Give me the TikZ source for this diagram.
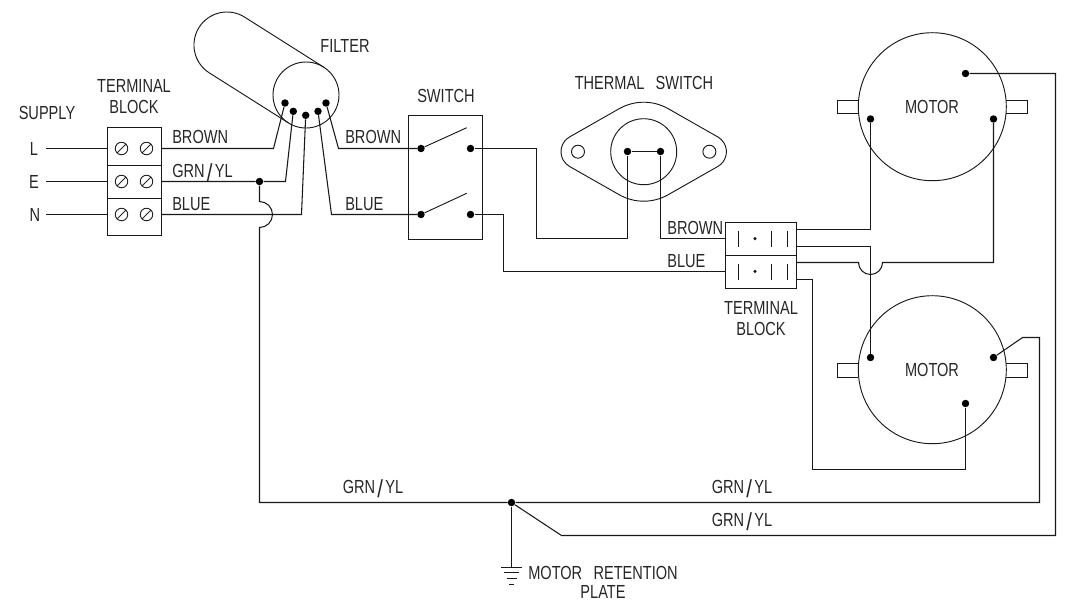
\documentclass[tikz,border=0pt]{standalone}
\usepackage{fontspec}
\setmainfont[FakeStretch=0.77]{Liberation Sans}
\usetikzlibrary{calc}
\newcommand{\grnyl}{GRN\kern1.7pt\raisebox{-3pt}{\scalebox{1.4}[1.3]{/}}\kern1.7pt YL}
\tikzset{
  wire/.style={black!90, line width=0.8pt, line join=miter},
  part/.style={black!90, line width=0.7pt},
  dot/.style={circle, fill=black, inner sep=0pt, minimum size=5.6pt},
  pin/.style={circle, fill=black!90, inner sep=0pt, minimum size=2.6pt},
  screw/.style={circle, draw=black!85, line width=0.7pt, inner sep=0pt, minimum size=9.4pt,
    path picture={\draw[black!85, line width=0.7pt] (path picture bounding box.south west) -- (path picture bounding box.north east);}},
  lbl/.style={inner sep=0pt, text=black!85, font=\fontsize{14.2}{15.6}\selectfont, text height=10.2pt, text depth=0pt},
  lbls/.style={inner sep=0pt, text=black!85, font=\fontsize{14.2}{15.6}\selectfont, align=center}
}
\begin{document}
\begin{tikzpicture}[x=0.75pt,y=0.75pt,yscale=-1]
\useasboundingbox (0,0) rectangle (1070,601);
\node[lbl] (supply) at (47,113) {SUPPLY};
\node[lbls] (tbAtitle) at (134,96.5) {TERMINAL\\BLOCK};
\node[lbl] (lineL) at (34,148.5) {L};
\node[lbl] (lineE) at (34,182) {E};
\node[lbl] (lineN) at (35,215) {N};
\node[lbl,anchor=west] (brownA) at (172,137) {BROWN};
\node[lbl,anchor=west] (greenA) at (172,171) {\grnyl};
\node[lbl,anchor=west] (blueA) at (172,204) {BLUE};
\node[lbl] (filterT) at (345,46) {FILTER};
\node[lbl,anchor=west] (brownB) at (345,137) {BROWN};
\node[lbl,anchor=west] (blueB) at (345,204) {BLUE};
\node[lbl] (switchT) at (446,96) {SWITCH};
\node[lbl] (thermalT) at (644,83) {THERMAL\ \ \,SWITCH};
\node[lbl,anchor=west] (brownC) at (667,227.5) {BROWN};
\node[lbl,anchor=west] (blueC) at (667,261) {BLUE};
\node[lbls] (tbBtitle) at (761,318.5) {TERMINAL\\BLOCK};
\node[lbl] (motorAT) at (932,106.7) {MOTOR};
\node[lbl] (motorBT) at (932,370) {MOTOR};
\node[lbl] (greenD) at (373,487) {\grnyl};
\node[lbl] (greenE) at (742,487) {\grnyl};
\node[lbl] (greenF) at (742,520) {\grnyl};
\node[lbls] (plateT) at (603,582.5) {MOTOR\ \ \,RETENTION\\[-1.5pt]PLATE};

\draw[part] (107.5,127.5) rectangle (161.5,235.5);
\draw[part] (107.5,165.5) -- (161.5,165.5);
\draw[part] (107.5,198.5) -- (161.5,198.5);
\node[screw] (s1a) at (121.5,148.5) {};
\node[screw] (s1b) at (146.5,148.5) {};
\node[screw] (s2a) at (121.5,181.5) {};
\node[screw] (s2b) at (146.5,181.5) {};
\node[screw] (s3a) at (121.5,214.5) {};
\node[screw] (s3b) at (146.5,214.5) {};
\coordinate (tbLin) at (107.5,148.5);
\coordinate (tbEin) at (107.5,181.5);
\coordinate (tbNin) at (107.5,214.5);
\coordinate (tbLout) at (161.5,148.5);
\coordinate (tbEout) at (161.5,181.5);
\coordinate (tbNout) at (161.5,214.5);
\coordinate (freeL) at (46,148.5);
\coordinate (freeE) at (46,181.5);
\coordinate (freeN) at (46,214.5);
\draw[wire] (freeL) -- (tbLin);
\draw[wire] (freeE) -- (tbEin);
\draw[wire] (freeN) -- (tbNin);

\coordinate (filterC) at (306,95);
\draw[part] (filterC) circle (33);
\draw[part] (323.6,67.1) -- (244.6,17.1) arc[start angle=-57.7,end angle=-237.7,radius=33] -- (288.4,122.9);
\node[dot] (f1) at (285,103) {};
\node[dot] (f2) at (293.3,111.3) {};
\node[dot] (f3) at (305.7,115.3) {};
\node[dot] (f4) at (318,111.3) {};
\node[dot] (f5) at (326,103) {};

\draw[part] (408.5,115.5) rectangle (482.5,239.5);
\node[dot] (swAl) at (421,148.5) {};
\node[dot] (swAr) at (470.5,148.5) {};
\node[dot] (swBl) at (421,214.5) {};
\node[dot] (swBr) at (470.5,214.5) {};
\coordinate (armA) at (466.7,127.7);
\coordinate (armB) at (466.7,193.3);
\draw[part] (swAl) -- (armA);
\draw[part] (swBl) -- (armB);

\coordinate (tsL) at (578,151.7);
\coordinate (tsC) at (643.7,151.7);
\coordinate (tsR) at (709.4,151.7);
\draw[part] (tsL) circle (6.5);
\draw[part] (tsR) circle (6.5);
\draw[part] (tsC) circle (33);
\draw[part] (tsL) ++(-119.65:17) arc[start angle=-119.65,end angle=-240.35,radius=17]
  -- ($(tsC)+(119.65:49.5)$) arc[start angle=119.65,end angle=60.35,radius=49.5]
  -- ($(tsR)+(60.35:17)$) arc[start angle=60.35,end angle=-60.35,radius=17]
  -- ($(tsC)+(-60.35:49.5)$) arc[start angle=-60.35,end angle=-119.65,radius=49.5] -- cycle;
\node[dot] (tsA) at (627.5,151.5) {};
\node[dot] (tsB) at (660.5,151.5) {};

\draw[part] (725.5,222.5) rectangle (796.5,288.5);
\draw[part] (725.5,255.5) -- (796.5,255.5);
\draw[part] (738.5,230.5) -- (738.5,246.5);
\draw[part] (771.5,230.5) -- (771.5,246.5);
\draw[part] (787.5,230.5) -- (787.5,246.5);
\draw[part] (738.5,263.5) -- (738.5,279.5);
\draw[part] (771.5,263.5) -- (771.5,279.5);
\draw[part] (787.5,263.5) -- (787.5,279.5);
\node[pin] (pinA) at (755,238.7) {};
\node[pin] (pinB) at (755,271.3) {};
\coordinate (tbBa) at (725.5,238.5);
\coordinate (tbBb) at (725.5,271.5);
\coordinate (tbO1) at (796.5,229.5);
\coordinate (tbO2) at (796.5,246.5);
\coordinate (tbO3) at (796.5,262.5);
\coordinate (tbO4) at (796.5,279.5);

\coordinate (motorA) at (932.3,106.7);
\coordinate (motorB) at (932.3,369.7);
\draw[part] (motorA) circle (74);
\draw[part] (motorB) circle (74);
\draw[part] (858.3,100.5) -- (837.5,100.5) -- (837.5,113.5) -- (858.3,113.5);
\draw[part] (1006.3,100.5) -- (1027.5,100.5) -- (1027.5,113.5) -- (1006.3,113.5);
\draw[part] (858.3,363.5) -- (837.5,363.5) -- (837.5,377.5) -- (858.3,377.5);
\draw[part] (1006.3,363.5) -- (1027.5,363.5) -- (1027.5,377.5) -- (1006.3,377.5);
\node[dot] (mAl) at (870.5,119) {};
\node[dot] (mAr) at (993.5,119) {};
\node[dot] (mAt) at (965.5,73.5) {};
\node[dot] (mBl) at (870.5,357.5) {};
\node[dot] (mBr) at (993.5,357.5) {};
\node[dot] (mBb) at (965.5,403.5) {};

\node[dot] (joinE) at (259.5,181.5) {};
\node[dot] (joinG) at (511.5,502.5) {};
\draw[wire] (tbLout) -- (273.5,148.5) -- (f1);
\draw[wire] (tbEout) -- (joinE) -- (285.5,181.5) -- (f2);
\draw[wire] (tbNout) -- (301.5,214.5) -- (f3);
\draw[wire] (f4) -- (331.5,214.5) -- (swBl);
\draw[wire] (f5) -- (338.5,148.5) -- (swAl);
\draw[wire] (joinE) -- (259.5,201.5) arc[start angle=-90,end angle=90,radius=13] |- (joinG);
\draw[wire] (swAr) -- (536.5,148.5) -- (536.5,238.5) -| (tsA);
\draw[wire] (tsA) -- (tsB);
\draw[wire] (tsB) |- (tbBa);
\draw[wire] (swBr) -- (503.5,214.5) |- (tbBb);
\draw[wire] (tbO1) -| (mAl);
\draw[wire] (tbO2) -| (mBl);
\draw[wire] (tbO3) -- (858.5,262.5) arc[start angle=180,end angle=0,radius=12] -| (mAr);
\draw[wire] (tbO4) -- (812.5,279.5) |- (965.5,469.5) -- (mBb);
\draw[wire] (joinG) -- (1039.5,502.5) |- (1022.5,337.5) -- (mBr);
\draw[wire] (joinG) -- (561.5,535.5) -- (1055.5,535.5) |- (mAt);

\coordinate (earth) at (511.5,566.5);
\draw[wire] (joinG) -- (earth);
\draw[part] (501.3,567.5) -- (521.7,567.5);
\draw[part] (504,572.5) -- (519.3,572.5);
\draw[part] (506.7,578.5) -- (516.7,578.5);
\draw[part] (509.3,584.5) -- (513.7,584.5);
\end{tikzpicture}
\end{document}
